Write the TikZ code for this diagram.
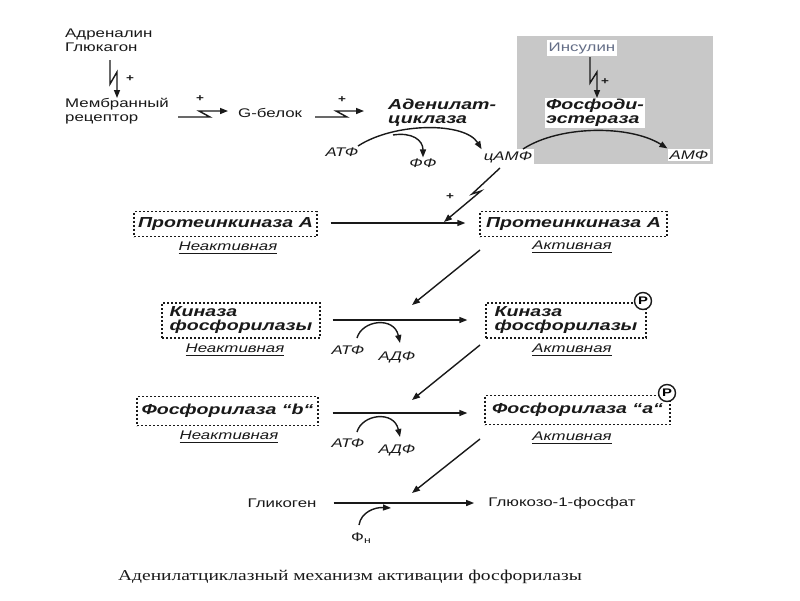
\documentclass[tikz,border=0pt]{standalone}
\usepackage{fontspec}
\setmainfont{Liberation Sans}[FakeStretch=1.35]
\newfontfamily\capfont{Liberation Serif}[FakeStretch=1.3]
\newcommand\myul[1]{\setbox0\hbox{#1}\leavevmode\rlap{\raisebox{-3pt}{\rule{\wd0}{1.2pt}}}\box0}
\usetikzlibrary{arrows.meta}
\definecolor{grayfill}{RGB}{200,200,200}
\definecolor{insc}{RGB}{100,110,135}
\definecolor{ink}{RGB}{25,25,25}
\tikzset{
  txt/.style={font=\fontsize{12.5}{13.5}\selectfont, inner sep=1pt, text=ink},
  itx/.style={font=\fontsize{12.5}{13.5}\selectfont\itshape, inner sep=1pt, text=ink},
  ttl/.style={font=\fontsize{14.5}{14}\selectfont\bfseries\itshape, inner sep=1pt, text=ink},
  ulab/.style={font=\fontsize{12.5}{13.5}\selectfont\itshape, inner sep=1pt, text=ink},
  plus/.style={font=\fontsize{10}{10}\selectfont\bfseries, inner sep=0pt, text=ink},
  dbox/.style={draw=ink, dash pattern=on 2pt off 2pt, line width=1.3pt, inner sep=0pt,
     font=\fontsize{14.5}{14}\selectfont\bfseries\itshape, text=ink},
  pcirc/.style={circle, draw=ink, line width=1.4pt, fill=white, inner sep=0pt, minimum size=17pt,
     font=\fontsize{11}{11}\selectfont\bfseries},
  arr/.style={draw=ink, line width=1.4pt, -{Triangle[length=8pt,width=6pt]}},
  wbg/.style={fill=white},
}
\begin{document}
\begin{tikzpicture}[x=1pt,y=-1pt]
\useasboundingbox (0,0) rectangle (800,600);
\fill[white] (0,0) rectangle (800,600);
\fill[grayfill] (517,36) rectangle (713,164);

% top texts
\node[txt, align=left, anchor=west] (horm) at (64,40.5) {Адреналин\\Глюкагон};
\node[txt, align=left, anchor=west] (rec) at (64,111) {Мембранный\\рецептор};
\node[txt, anchor=west] (gb) at (237,113) {G-белок};
\node[ttl, align=left, anchor=west] (ac) at (387,113) {Аденилат-\\циклаза};
\node[ttl, align=left, anchor=west, wbg] (pde) at (545,113) {Фосфоди-\\эстераза};
\node[txt, wbg, text=insc, inner sep=2pt] (ins) at (582,48) {Инсулин};
\node[itx] (atf0) at (342,152) {АТФ};
\node[itx] (ff) at (423,163) {ФФ};
\node[itx, wbg, inner sep=2pt] (camp) at (508,157) {цАМФ};
\node[itx, wbg, inner sep=2pt] (amp) at (689,155) {АМФ};

\node[plus] (pl1) at (130,79) {+};
\node[plus] (pl2) at (200,99) {+};
\node[plus] (pl3) at (342,100) {+};
\node[plus] (pl4) at (605,82) {+};
\node[plus] (pl5) at (450,197) {+};

% bolts
\coordinate (b1s) at (110,60); \coordinate (b1e) at (117,98);
\draw[arr] (b1s) -- (110,84) -- (117,72) -- (b1e);
\coordinate (b2s) at (178,117); \coordinate (b2e) at (228,111);
\draw[arr] (b2s) -- (210,117) -- (199,111) -- (b2e);
\coordinate (b3s) at (315,117); \coordinate (b3e) at (364,111);
\draw[arr] (b3s) -- (347,117) -- (336,111) -- (b3e);
\coordinate (b4s) at (590,57); \coordinate (b4e) at (597,98);
\draw[arr] (b4s) -- (590,83) -- (597,72) -- (b4e);
\coordinate (b5s) at (500,168); \coordinate (b5e) at (444,222);
\draw[arr] (b5s) -- (472,194) -- (481,191) -- (b5e);

% curved arrows top
\coordinate (c1s) at (358,146);
\draw[arr] (c1s) .. controls (395,122) and (465,122) .. (camp.north west);
\coordinate (c1b) at (393,135);
\draw[arr] (c1b) .. controls (412,132) and (423,140) .. (ff.north);
\coordinate (c2s) at (523,149);
\draw[arr] (c2s) .. controls (560,125) and (630,125) .. (amp.north west);

% boxes
\node[dbox, minimum width=183pt, minimum height=25pt] (r1l) at (225.5,224) {Протеинкиназа А};
\node[dbox, minimum width=187pt, minimum height=25pt] (r1r) at (573.5,224) {Протеинкиназа А};
\node[dbox, minimum width=158pt, minimum height=35pt, align=left] (r2l) at (241,320.5) {Киназа\\фосфорилазы};
\node[dbox, minimum width=160pt, minimum height=35pt, align=left] (r2r) at (566,320.5) {Киназа\\фосфорилазы};
\node[dbox, minimum width=181pt, minimum height=29pt] (r3l) at (227.5,411) {Фосфорилаза “b“};
\node[dbox, minimum width=185pt, minimum height=29pt] (r3r) at (577.5,410) {Фосфорилаза “a“};
\node[pcirc] (p2) at (643,301) {P};
\node[pcirc] (p3) at (667,393) {P};

\node[ulab] (u1l) at (228,248) {\myul{Неактивная}};
\node[ulab] (u1r) at (572,247) {\myul{Активная}};
\node[ulab] (u2l) at (235,350) {\myul{Неактивная}};
\node[ulab] (u2r) at (572,350) {\myul{Активная}};
\node[ulab] (u3l) at (229,437) {\myul{Неактивная}};
\node[ulab] (u3r) at (572,438) {\myul{Активная}};

% horizontal arrows
\draw[arr, shorten <=13pt, shorten >=14pt] (r1l.east |- 0,223) -- (r1r.west |- 0,223);
\draw[arr, shorten <=12pt, shorten >=18pt] (r2l.east |- 0,320) -- (r2r.west |- 0,320);
\draw[arr, shorten <=14pt, shorten >=17pt] (r3l.east |- 0,413) -- (r3r.west |- 0,413);

% ATF/ADF
\node[itx] (atf2) at (348,350) {АТФ};
\node[itx] (adf2) at (397,357) {АДФ};
\node[itx] (atf3) at (348,443) {АТФ};
\node[itx] (adf3) at (397,450) {АДФ};
\coordinate (k2s) at (357,338); \coordinate (k2e) at (400,343);
\draw[arr] (k2s) .. controls (362,320) and (394,316) .. (k2e);
\coordinate (k3s) at (357,432); \coordinate (k3e) at (400,437);
\draw[arr] (k3s) .. controls (362,414) and (394,410) .. (k3e);

% diagonals
\coordinate (d1s) at (480,250); \coordinate (d1e) at (412,305);
\draw[arr] (d1s) -- (d1e);
\coordinate (d2s) at (480,345); \coordinate (d2e) at (412,400);
\draw[arr] (d2s) -- (d2e);
\coordinate (d3s) at (480,439); \coordinate (d3e) at (412,493);
\draw[arr] (d3s) -- (d3e);

% bottom row
\node[txt] (gly) at (282,503) {Гликоген};
\node[txt] (g1p) at (562,503) {Глюкозо-1-фосфат};
\draw[arr, shorten <=16pt, shorten >=13pt] (gly.east) -- (g1p.west);
\node[txt] (phn) at (361,538) {Ф\raisebox{-2.5pt}{\fontsize{9}{9}\selectfont н}};
\coordinate (fhs) at (359,525);
\draw[arr] (fhs) .. controls (361,512) and (375,507) .. (391,508);

% caption
\node[font=\capfont\fontsize{15}{16}\selectfont, text=ink, inner sep=0pt] (cap) at (350,577) {Аденилатциклазный механизм активации фосфорилазы};
\end{tikzpicture}
\end{document}
